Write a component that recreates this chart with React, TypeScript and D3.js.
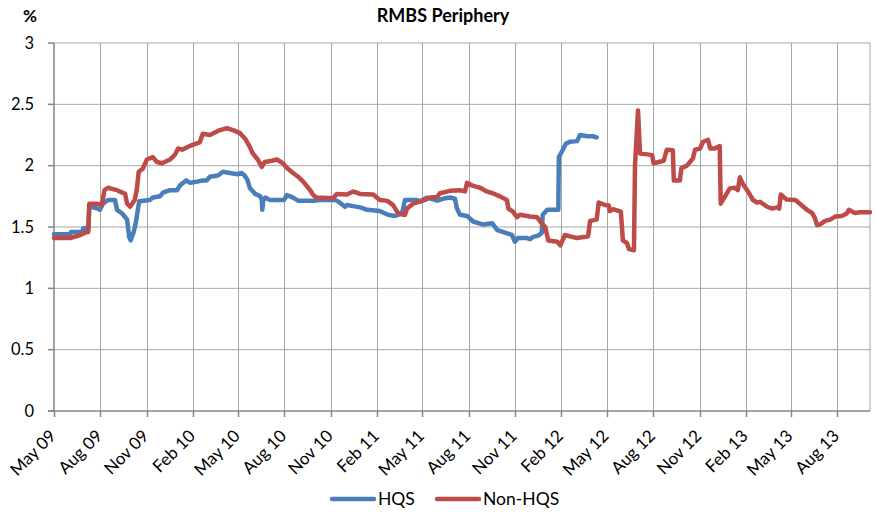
import React from 'react';
import * as d3 from 'd3';

// values, in %
const hqsSeries: [string, number][] = [
  ['2009-05-01', 1.44], ['2009-06-02', 1.44], ['2009-06-04', 1.46], ['2009-06-26', 1.46], ['2009-06-28', 1.49],
  ['2009-07-08', 1.49], ['2009-07-10', 1.68], ['2009-07-17', 1.66], ['2009-07-27', 1.65], ['2009-07-31', 1.64],
  ['2009-08-06', 1.69], ['2009-08-16', 1.72], ['2009-08-30', 1.72], ['2009-09-03', 1.64], ['2009-09-13', 1.61],
  ['2009-09-23', 1.56], ['2009-09-27', 1.42], ['2009-09-30', 1.39], ['2009-10-06', 1.46], ['2009-10-10', 1.53],
  ['2009-10-17', 1.71], ['2009-11-07', 1.72], ['2009-11-13', 1.74], ['2009-11-27', 1.75], ['2009-12-03', 1.78],
  ['2009-12-17', 1.8], ['2009-12-31', 1.8], ['2010-01-06', 1.84], ['2010-01-18', 1.88], ['2010-01-26', 1.86],
  ['2010-02-09', 1.87], ['2010-02-20', 1.88], ['2010-02-28', 1.88], ['2010-03-06', 1.91], ['2010-03-22', 1.92],
  ['2010-04-01', 1.95], ['2010-04-15', 1.94], ['2010-04-30', 1.93], ['2010-05-08', 1.94], ['2010-05-14', 1.92],
  ['2010-05-20', 1.88], ['2010-05-24', 1.82], ['2010-06-04', 1.77], ['2010-06-14', 1.75], ['2010-06-17', 1.72],
  ['2010-06-18', 1.64], ['2010-06-20', 1.72], ['2010-06-24', 1.74], ['2010-07-03', 1.72], ['2010-07-31', 1.72],
  ['2010-08-06', 1.76], ['2010-08-18', 1.74], ['2010-08-28', 1.715], ['2010-09-30', 1.715], ['2010-10-10', 1.72],
  ['2010-11-09', 1.72], ['2010-11-15', 1.71], ['2010-11-29', 1.665], ['2010-12-03', 1.68], ['2010-12-15', 1.67],
  ['2010-12-29', 1.66], ['2011-01-12', 1.64], ['2011-02-06', 1.63], ['2011-02-22', 1.6], ['2011-03-08', 1.59],
  ['2011-03-22', 1.61], ['2011-03-28', 1.72], ['2011-04-21', 1.72], ['2011-04-27', 1.71], ['2011-05-11', 1.74],
  ['2011-05-31', 1.715], ['2011-06-11', 1.73], ['2011-06-25', 1.74], ['2011-07-05', 1.73], ['2011-07-09', 1.65],
  ['2011-07-15', 1.6], ['2011-07-29', 1.59], ['2011-08-10', 1.545], ['2011-08-30', 1.52], ['2011-09-17', 1.53],
  ['2011-09-27', 1.475], ['2011-10-08', 1.46], ['2011-10-26', 1.435], ['2011-11-01', 1.38], ['2011-11-07', 1.41],
  ['2011-11-25', 1.41], ['2011-12-01', 1.4], ['2011-12-07', 1.42], ['2011-12-17', 1.43], ['2011-12-24', 1.45],
  ['2011-12-26', 1.6], ['2012-01-04', 1.64], ['2012-01-26', 1.64], ['2012-01-27', 2.07], ['2012-02-04', 2.13],
  ['2012-02-10', 2.18], ['2012-02-18', 2.195], ['2012-03-03', 2.2], ['2012-03-09', 2.25], ['2012-03-23', 2.24],
  ['2012-04-03', 2.24], ['2012-04-11', 2.23]
];

const nonHqsSeries: [string, number][] = [
  ['2009-05-01', 1.41], ['2009-06-02', 1.41], ['2009-06-22', 1.435], ['2009-07-05', 1.46], ['2009-07-08', 1.46],
  ['2009-07-10', 1.69], ['2009-07-25', 1.69], ['2009-08-04', 1.68], ['2009-08-09', 1.8], ['2009-08-16', 1.82],
  ['2009-09-03', 1.8], ['2009-09-19', 1.77], ['2009-09-23', 1.69], ['2009-09-29', 1.665], ['2009-10-08', 1.72],
  ['2009-10-12', 1.8], ['2009-10-16', 1.95], ['2009-10-24', 1.975], ['2009-11-01', 2.05], ['2009-11-13', 2.07],
  ['2009-11-21', 2.03], ['2009-12-01', 2.02], ['2009-12-17', 2.05], ['2009-12-27', 2.09], ['2010-01-02', 2.14],
  ['2010-01-10', 2.13], ['2010-01-20', 2.15], ['2010-01-31', 2.17], ['2010-02-14', 2.19], ['2010-02-20', 2.26],
  ['2010-03-06', 2.25], ['2010-03-26', 2.29], ['2010-04-09', 2.305], ['2010-04-21', 2.29], ['2010-05-05', 2.265],
  ['2010-05-15', 2.22], ['2010-05-24', 2.155], ['2010-05-30', 2.1], ['2010-06-09', 2.05], ['2010-06-17', 1.99],
  ['2010-06-23', 2.03], ['2010-07-07', 2.04], ['2010-07-17', 2.05], ['2010-07-29', 2.02], ['2010-08-06', 1.98],
  ['2010-08-18', 1.94], ['2010-08-28', 1.91], ['2010-09-07', 1.87], ['2010-09-15', 1.83], ['2010-09-21', 1.8],
  ['2010-09-27', 1.76], ['2010-10-03', 1.74], ['2010-11-05', 1.735], ['2010-11-13', 1.77], ['2010-12-03', 1.765],
  ['2010-12-15', 1.79], ['2010-12-29', 1.77], ['2011-01-24', 1.765], ['2011-02-06', 1.72], ['2011-02-20', 1.715],
  ['2011-03-04', 1.68], ['2011-03-14', 1.615], ['2011-03-24', 1.6], ['2011-03-28', 1.6], ['2011-04-01', 1.65],
  ['2011-04-13', 1.69], ['2011-05-03', 1.715], ['2011-05-17', 1.74], ['2011-05-31', 1.745], ['2011-06-05', 1.775],
  ['2011-06-25', 1.795], ['2011-07-15', 1.8], ['2011-07-25', 1.79], ['2011-07-29', 1.86], ['2011-08-10', 1.835],
  ['2011-08-24', 1.82], ['2011-09-06', 1.79], ['2011-09-18', 1.775], ['2011-10-02', 1.75], ['2011-10-16', 1.72],
  ['2011-10-19', 1.65], ['2011-10-28', 1.625], ['2011-11-05', 1.58], ['2011-11-11', 1.6], ['2011-12-01', 1.585],
  ['2011-12-15', 1.58], ['2011-12-21', 1.545], ['2011-12-31', 1.5], ['2012-01-06', 1.39], ['2012-01-24', 1.38],
  ['2012-01-30', 1.35], ['2012-02-08', 1.435], ['2012-02-22', 1.42], ['2012-03-03', 1.41], ['2012-03-25', 1.425],
  ['2012-03-29', 1.55], ['2012-04-11', 1.56], ['2012-04-15', 1.7], ['2012-04-27', 1.68], ['2012-05-05', 1.675],
  ['2012-05-07', 1.63], ['2012-05-13', 1.645], ['2012-05-29', 1.625], ['2012-06-02', 1.39], ['2012-06-10', 1.37],
  ['2012-06-14', 1.32], ['2012-06-24', 1.31], ['2012-06-26', 2.0], ['2012-07-02', 2.45], ['2012-07-06', 2.1],
  ['2012-07-24', 2.09], ['2012-07-30', 2.085], ['2012-08-02', 2.02], ['2012-08-12', 2.03], ['2012-08-22', 2.04],
  ['2012-08-28', 2.13], ['2012-09-09', 2.125], ['2012-09-11', 1.88], ['2012-09-23', 1.88], ['2012-09-26', 1.98],
  ['2012-10-07', 2.0], ['2012-10-13', 2.03], ['2012-10-19', 2.06], ['2012-10-23', 2.13], ['2012-11-02', 2.14],
  ['2012-11-08', 2.195], ['2012-11-18', 2.21], ['2012-11-22', 2.14], ['2012-12-01', 2.14], ['2012-12-11', 2.16],
  ['2012-12-13', 1.69], ['2012-12-21', 1.745], ['2012-12-31', 1.815], ['2013-01-10', 1.82], ['2013-01-16', 1.8],
  ['2013-01-20', 1.905], ['2013-01-26', 1.85], ['2013-02-05', 1.79], ['2013-02-15', 1.72], ['2013-02-23', 1.7],
  ['2013-03-01', 1.705], ['2013-03-15', 1.665], ['2013-03-25', 1.65], ['2013-04-04', 1.66], ['2013-04-08', 1.65],
  ['2013-04-11', 1.765], ['2013-04-22', 1.725], ['2013-05-10', 1.72], ['2013-05-20', 1.685], ['2013-06-02', 1.64],
  ['2013-06-12', 1.615], ['2013-06-18', 1.57], ['2013-06-22', 1.515], ['2013-06-28', 1.52], ['2013-07-08', 1.55],
  ['2013-07-18', 1.56], ['2013-07-28', 1.585], ['2013-08-10', 1.59], ['2013-08-20', 1.61], ['2013-08-24', 1.64],
  ['2013-09-05', 1.615], ['2013-09-15', 1.62], ['2013-10-05', 1.62]
];

const tickDates = [
  '2009-05-01', '2009-08-01', '2009-11-01', '2010-02-01', '2010-05-01', '2010-08-01',
  '2010-11-01', '2011-02-01', '2011-05-01', '2011-08-01', '2011-11-01', '2012-02-01',
  '2012-05-01', '2012-08-01', '2012-11-01', '2013-02-01', '2013-05-01', '2013-08-01'
];
const tickLabels = [
  'May 09', 'Aug 09', 'Nov 09', 'Feb 10', 'May 10', 'Aug 10', 'Nov 10', 'Feb 11', 'May 11',
  'Aug 11', 'Nov 11', 'Feb 12', 'May 12', 'Aug 12', 'Nov 12', 'Feb 13', 'May 13', 'Aug 13'
];
const yTicks = [0, 0.5, 1, 1.5, 2, 2.5, 3];
const domainDates = ['2009-05-01', '2013-10-05'];

const seriesNames = ['HQS', 'Non-HQS'];
const seriesColors = ['#4A7EBB', '#BE4B48'];

const FONT = 'Lato, "Open Sans", sans-serif';

const RmbsChart: React.FC = () => {
  const ref = React.useRef<SVGSVGElement>(null);

  React.useEffect(() => {
    const width = 877;
    const height = 516;
    const left = 54, right = 870, top = 43, bottom = 411;
    const parse = d3.timeParse('%Y-%m-%d');

    const svg = d3.select(ref.current);
    svg.selectAll('*').remove();

    const x = d3
      .scaleTime()
      .domain(domainDates.map((d) => parse(d) as Date))
      .range([left, right]);
    const y = d3.scaleLinear().domain([0, 3]).range([bottom, top]);

    const grid = svg.append('g').attr('stroke', '#A6A6A6').attr('stroke-width', 1);
    yTicks.filter((v) => v > 0).forEach((v) => {
      grid.append('line').attr('x1', left).attr('x2', right).attr('y1', y(v)).attr('y2', y(v));
    });
    tickDates.slice(1).forEach((d) => {
      const px = Math.round(x(parse(d) as Date)) + 0.5;
      grid.append('line').attr('x1', px).attr('x2', px).attr('y1', top).attr('y2', bottom);
    });
    grid.append('line').attr('x1', right).attr('x2', right).attr('y1', top).attr('y2', bottom);

    // axes
    const axis = svg.append('g').attr('stroke', '#868686').attr('stroke-width', 1.5);
    axis.append('line').attr('x1', left).attr('x2', left).attr('y1', top).attr('y2', bottom + 0.5);
    axis.append('line').attr('x1', left - 6).attr('x2', right).attr('y1', bottom).attr('y2', bottom);
    yTicks.forEach((v) => {
      axis.append('line').attr('x1', left - 6).attr('x2', left).attr('y1', y(v)).attr('y2', y(v));
    });
    tickDates.forEach((d) => {
      const px = Math.round(x(parse(d) as Date)) + 0.5;
      axis.append('line').attr('x1', px).attr('x2', px).attr('y1', bottom).attr('y2', bottom + 6);
    });

    svg
      .append('g')
      .selectAll('text')
      .data(yTicks)
      .enter()
      .append('text')
      .attr('x', 34)
      .attr('y', (v) => y(v))
      .attr('dy', '0.35em')
      .attr('text-anchor', 'end')
      .attr('font-family', FONT)
      .attr('font-size', 16.5)
      .attr('fill', '#000')
      .text((v) => String(v));

    svg
      .append('g')
      .selectAll('text')
      .data(tickDates)
      .enter()
      .append('text')
      .attr('transform', (d) => `translate(${x(parse(d) as Date) + 3},${bottom + 26}) rotate(-45)`)
      .attr('text-anchor', 'end')
      .attr('font-family', FONT)
      .attr('font-size', 17)
      .attr('fill', '#000')
      .text((_d, i) => tickLabels[i]);

    const line = d3
      .line<[string, number]>()
      .x((d) => x(parse(d[0]) as Date))
      .y((d) => y(d[1]));

    [hqsSeries, nonHqsSeries].forEach((s, i) => {
      svg
        .append('path')
        .datum(s)
        .attr('fill', 'none')
        .attr('stroke', seriesColors[i])
        .attr('stroke-width', 4.5)
        .attr('stroke-linejoin', 'round')
        .attr('stroke-linecap', 'round')
        .attr('d', line);
    });

    // title and unit
    svg
      .append('text')
      .attr('x', 443)
      .attr('y', 22)
      .attr('text-anchor', 'middle')
      .attr('font-family', FONT)
      .attr('font-weight', 'bold')
      .attr('font-size', 18)
      .text('RMBS Periphery');
    svg
      .append('text')
      .attr('x', 23)
      .attr('y', 22)
      .attr('font-family', FONT)
      .attr('font-weight', 'bold')
      .attr('font-size', 17)
      .text('%');

    // legend
    const legendX = [330, 435];
    const legend = svg.append('g');
    seriesNames.forEach((name, i) => {
      legend
        .append('line')
        .attr('x1', legendX[i] + 2)
        .attr('x2', legendX[i] + 44)
        .attr('y1', 499)
        .attr('y2', 499)
        .attr('stroke', seriesColors[i])
        .attr('stroke-width', 4.5)
        .attr('stroke-linecap', 'round');
      legend
        .append('text')
        .attr('x', legendX[i] + 48)
        .attr('y', 505)
        .attr('font-family', FONT)
        .attr('font-size', 17.5)
        .text(name);
    });

    svg.attr('width', width).attr('height', height);
  }, []);

  return <svg ref={ref} style={{ position: 'absolute', left: 0, top: 0, background: '#fff' }} />;
};

export default function App() {
  return <RmbsChart />;
}
